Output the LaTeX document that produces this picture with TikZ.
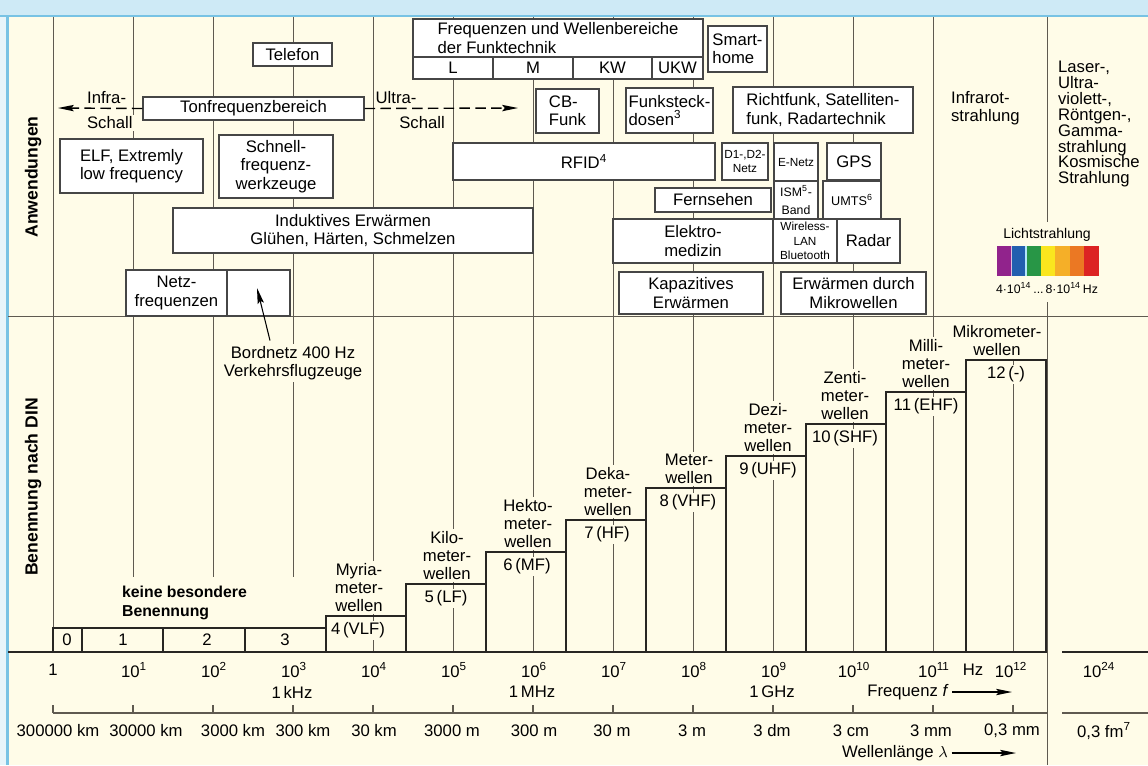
\documentclass[tikz,border=0pt]{standalone}
\usepackage{fontspec}
\setmainfont{Liberation Sans}
\usetikzlibrary{arrows.meta}

\begin{document}
\begin{tikzpicture}[x=0.02cm, y=-0.02cm,
	font=\fontsize{9.5}{10.4}\selectfont,
	grid/.style={draw=gridc, line width=0.55pt},
	box/.style={draw=boxc, fill=white, line width=0.65pt, inner sep=0pt, align=center},
	span/.style n args={4}{at={({(#1+#3)/2},{(#2+#4)/2})},
		minimum width={(#3-#1)*0.02cm}, minimum height={(#4-#2)*0.02cm}},
	tinybox/.style={box, font=\fontsize{6.7}{8.1}\selectfont},
	lbl/.style={fill=paper, inner sep=1pt, align=center},
	note/.style={inner sep=1pt, align=left},
	stepline/.style={draw=stepc, line width=1.2pt},
	arr/.style={-{Stealth[length=9pt,width=3.6pt,inset=1.5pt]}, line width=0.8pt},
	dasharr/.style={arr, dash pattern=on 6pt off 3pt}]

	% Define colors
	\definecolor{paper}{RGB}{255,252,232}
	\definecolor{sky}{RGB}{206,234,246}
	\definecolor{skyline}{RGB}{120,195,228}
	\definecolor{gridc}{RGB}{95,90,80}
	\definecolor{boxc}{RGB}{70,70,70}
	\definecolor{stepc}{RGB}{40,38,35}
	\definecolor{specA}{RGB}{145,35,140}
	\definecolor{specB}{RGB}{35,95,175}
	\definecolor{specC}{RGB}{40,150,70}
	\definecolor{specD}{RGB}{250,230,30}
	\definecolor{specE}{RGB}{245,175,40}
	\definecolor{specF}{RGB}{235,120,35}
	\definecolor{specG}{RGB}{220,35,35}
	\lineskiplimit=-10pt\relax

	% Draw the background
	\useasboundingbox (0,0) rectangle (1148,765);
	\fill[paper] (0,0) rectangle (1148,765);
	\fill[sky] (0,0) rectangle (1148,16);
	\fill[sky!50!white] (0,16) rectangle (7,765);
	\draw[skyline, line width=1pt] (0,16) -- (1148,16);
	\draw[skyline, line width=1.2pt] (7.5,16) -- (7.5,765);

	% Draw the grid
	\foreach \x in {53,373,453,533,613,693,773,853,933}
		\draw[grid] (\x,17) -- (\x,652);
	\foreach \x in {133,213,293}
		\draw[grid] (\x,17) -- (\x,577);
	\draw[grid] (1013,360) -- (1013,652);
	\draw[grid] (1047,17) -- (1047,222);
	\draw[grid] (1047,302) -- (1047,765);
	\draw[grid] (8,316) -- (1148,316);

	% Draw the application boxes
	\node[box, span={253}{43}{332}{66}] (telefon) {Telefon};
	\node[box, span={143}{97}{364}{120}] (tonfreq) {Tonfrequenzbereich};
	\node[box, span={60}{139}{203}{193}] (elf) {ELF, Extremly\\low frequency};
	\node[box, span={219}{135}{333}{198}] (schnell) {Schnell-\\frequenz-\\werkzeuge};
	\node[box, span={173}{208}{533}{253}] (induktiv) {Induktives Erwärmen\\Glühen, Härten, Schmelzen};
	\node[box, span={126}{270}{227}{316}] (netz) {Netz-\\frequenzen};
	\node[box, span={227}{270}{290}{316}] (netzrest) {};
	\node[box, align=left, span={413}{19}{703}{57}] (funktechnik) {Frequenzen und Wellenbereiche\\der Funktechnik};
	\foreach \xa/\xb/\band [count=\i] in {413/493/L, 493/573/M, 573/652/KW, 652/703/UKW}
		\node[box, span={\xa}{57}{\xb}{79}] (band\i) {\band};
	\node[box, align=left, span={708}{26}{767}{72}] (smarthome) {Smart-\\home};
	\node[box, align=left, span={536}{89}{599}{133}] (cbfunk) {CB-\\Funk};
	\node[box, align=left, span={626}{88}{713}{133}] (funksteck) {Funksteck-\\dosen\textsuperscript{3}};
	\node[box, align=left, span={733}{87}{913}{133}] (richtfunk) {Richtfunk, Satelliten-\\funk, Radartechnik};
	\node[box, span={453}{143}{715}{180}] (rfid) {RFID\textsuperscript{4}};
	\node[tinybox, span={722}{143}{768}{180}] (dnetz) {D1-,D2-\\Netz};
	\node[tinybox, span={774}{143}{818}{181}] (enetz) {E-Netz};
	\node[box, span={827}{143}{881}{180}] (gps) {GPS};
	\node[box, span={655}{188}{771}{212}] (fernsehen) {Fernsehen};
	\node[box, font=\fontsize{7}{10.5}\selectfont, span={774}{181}{818}{219}] (ism) {ISM\textsuperscript{5}-\\Band};
	\node[box, font=\fontsize{7.2}{9}\selectfont, span={823}{181}{881}{219}] (umts) {UMTS\textsuperscript{6}};
	\node[box, span={613}{219}{773}{263}] (elektro) {Elektro-\\medizin};
	\node[tinybox, span={773}{219}{837}{263}] (wlan) {Wireless-\\LAN\\Bluetooth};
	\node[box, span={837}{219}{900}{263}] (radar) {Radar};
	\node[box, span={619}{272}{763}{314}] (kapazitiv) {Kapazitives\\Erwärmen};
	\node[box, span={781}{272}{926}{314}] (mikrowelle) {Erwärmen durch\\Mikrowellen};

	% Infra- and Ultraschall
	\node[lbl, anchor=west] (infra) at (85,98) {Infra-};
	\node[lbl, anchor=west] (infraschall) at (85,123) {Schall};
	\node[lbl] (ultra) at (396,98) {Ultra-};
	\node[lbl] (ultraschall) at (422,123) {Schall};
	\coordinate (infratip) at (58,108);
	\coordinate (ultratip) at (518,108);
	\draw[dasharr] (tonfreq.west) -- (infratip);
	\draw[dasharr] (tonfreq.east) -- (ultratip);

	% Bordnetz
	\node[lbl, anchor=north] (bordnetz) at (293,344) {Bordnetz 400 Hz\\Verkehrsflugzeuge};
	\coordinate (bordtip) at (257,288);
	\draw[arr, line width=0.6pt] ([xshift=-0.46cm,yshift=2pt]bordnetz.north) -- (bordtip);

	% Radiation
	\node[note, anchor=west] (infrarot) at (949,108) {Infrarot-\\strahlung};
	\node[note, anchor=west, font=\fontsize{9.5}{9.1}\selectfont] (laser) at (1056,124)
		{Laser-,\\Ultra-\\violett-,\\Röntgen-,\\Gamma-\\strahlung\\Kosmische\\Strahlung};
	\node[font=\fontsize{8}{9}\selectfont] (licht) at (1047,235) {Lichtstrahlung};
	\foreach \c [count=\i from 0] in {specA,specB,specC,specD,specE,specF,specG}
		\fill[\c] (997+14.5*\i,246) rectangle (1011.5+14.5*\i,276);
	\draw[violet!25, line width=0.8pt] (1011.5,246) -- (1011.5,276);
	\draw[cyan!30, line width=0.8pt] (1026,246) -- (1026,276);
	\node[font=\fontsize{7}{8}\selectfont] (lichthz) at (1047,288) {4·10\textsuperscript{14}\,...\,8·10\textsuperscript{14}\,Hz};

	% Side titles
	\node[rotate=90, font=\fontsize{10}{12}\selectfont\bfseries] (anwend) at (33,177) {Anwendungen};
	\node[rotate=90, font=\fontsize{10}{12}\selectfont\bfseries] (benenn) at (33,487) {Benennung nach DIN};

	% Draw the DIN steps
	\draw[stepline] (53,652) -- (53,628) -- (326,628);
	\foreach \x in {82,163,245}
		\draw[stepline] (\x,628) -- (\x,652);
	\foreach \k in {0,...,8}
		\draw[stepline] (326+80*\k,652) rectangle (406+80*\k,616-32*\k);
	\foreach \xc/\n in {67/0, 123/1, 207/2, 285/3}
		\node (din\n) at (\xc,640) {\n};
	\node[note, anchor=west, font=\fontsize{9}{10.4}\selectfont\bfseries] (keine) at (120,603) {keine besondere\\Benennung};
	\foreach \xn/\xc/\yt/\wname/\wcode [count=\i from 4] in {
		359/358/616/{Myria-\\meter-\\wellen}/{4\,(VLF)},
		447/446/584/{Kilo-\\meter-\\wellen}/{5\,(LF)},
		528/527/552/{Hekto-\\meter-\\wellen}/{6\,(MF)},
		608/607/520/{Deka-\\meter-\\wellen}/{7\,(HF)},
		689/688/488/{Meter-\\wellen}/{8\,(VHF)},
		768/768/456/{Dezi-\\meter-\\wellen}/{9\,(UHF)},
		845/845/424/{Zenti-\\meter-\\wellen}/{10\,(SHF)},
		926/926/392/{Milli-\\meter-\\wellen}/{11\,(EHF)},
		997/1006/360/{Mikrometer-\\wellen}/{12\,(-)}} {
		\node[lbl, anchor=south] (wname\i) at (\xn,\yt-2) {\wname};
		\node[lbl] (wcode\i) at (\xc,\yt+14.5) {\wcode};
	}

	% Draw the axis lines
	\draw[stepline] (8,652) -- (1047,652);
	\draw[stepline] (1062,652) -- (1148,652);
	\draw[grid, line width=0.8pt] (53,713) -- (1047,713);
	\draw[grid, line width=0.8pt] (1062,713) -- (1148,713);
	\foreach \x in {53,133,...,1013}
		\draw[grid, line width=0.8pt] (\x,705) -- (\x,713);

	% Frequency labels
	\node (freq0) at (53,670) {1};
	\foreach \k in {1,...,11}
		\node (freq\k) at (54+80*\k,670) {10\textsuperscript{\k}};
	\node (hz) at (973,670) {Hz};
	\node (freq12) at (1011,670) {10\textsuperscript{12}};
	\node (freq24) at (1099,670) {10\textsuperscript{24}};
	\node (khz) at (292,692) {1\,kHz};
	\node (mhz) at (532,692) {1\,MHz};
	\node (ghz) at (772,692) {1\,GHz};
	\node[inner sep=2pt] (freqname) at (908,692) {Frequenz \textit{f}};
	\coordinate (freqtip) at (1012,692);
	\draw[arr] (freqname.east) -- (freqtip);

	% Wavelength labels
	\foreach \xc/\txt [count=\i] in {58/300000 km, 146/30000 km, 233/3000 km, 303/300 km,
		374/30 km, 452/3000 m, 534/300 m, 612/30 m, 692/3 m, 772/3 dm, 851/3 cm,
		931/3 mm, 1012/{0,3 mm}}
		\node (wave\i) at (\xc,731) {\txt};
	\node (wave14) at (1104,731) {0,3 fm\textsuperscript{7}};
	\node[inner sep=2pt] (wavename) at (895,753) {Wellenlänge $\lambda$};
	\coordinate (wavetip) at (1016,753);
	\draw[arr] (wavename.east) -- (wavetip);

\end{tikzpicture}
\end{document}
